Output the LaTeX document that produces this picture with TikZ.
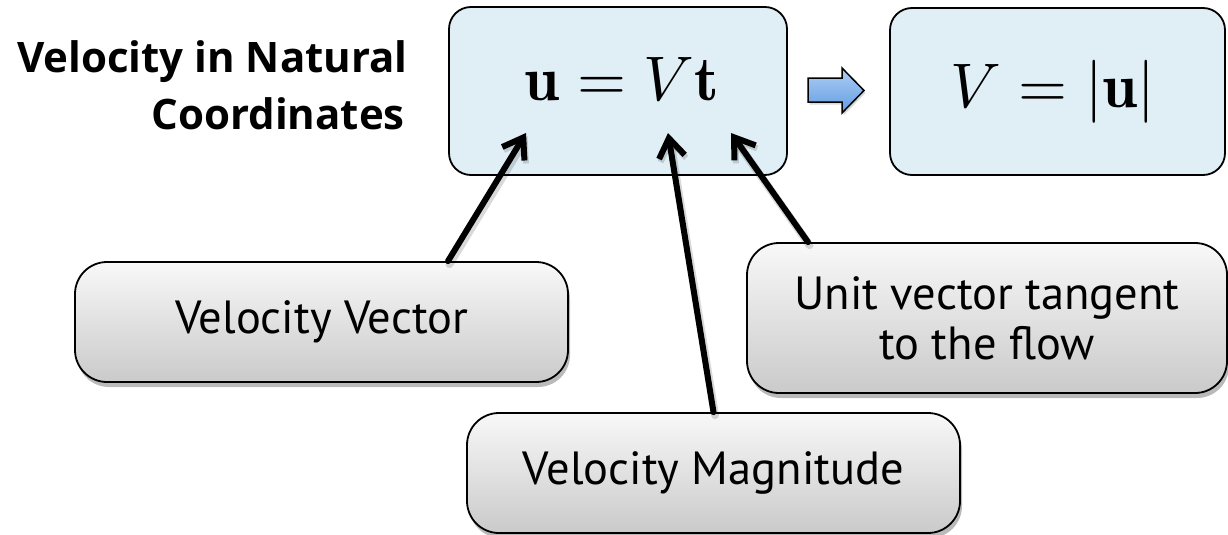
\documentclass[tikz,border=0pt]{standalone}
\usepackage{fontspec}
\setsansfont{PT Sans}
\newfontfamily\titlefont{Open Sans}
\usetikzlibrary{arrows.meta,shadows,calc}
\definecolor{eqfill}{RGB}{224,238,246}
\definecolor{grtop}{RGB}{248,248,248}
\definecolor{grbot}{RGB}{202,202,202}
\definecolor{bltop}{RGB}{176,206,244}
\definecolor{blbot}{RGB}{96,156,226}
\tikzset{
  eqbox/.style={draw=black, line width=1.8pt, fill=eqfill, rounded corners=22pt, inner sep=0pt},
  labelbox/.style={draw=black, line width=1.8pt, rounded corners=32pt, inner sep=0pt,
    top color=grtop, bottom color=grbot, align=center,
    font=\sffamily\fontsize{46.5}{50}\selectfont,
    drop shadow={shadow xshift=2pt, shadow yshift=-5pt, opacity=0.45, fill=black!60}},
  titletext/.style={font=\titlefont\bfseries\fontsize{42}{48}\selectfont, inner sep=0pt},
  conntip/.style={-{Straight Barb[length=19pt, width=26pt, line width=6pt]}},
  conn/.style={line width=6pt, conntip, line cap=round, line join=round},
  connshadow/.style={line width=8pt, conntip, line cap=round, line join=round,
    draw=black, opacity=0.15},
  eqtext/.style={inner sep=0pt}
}
\begin{document}
\begin{tikzpicture}[x=1pt,y=-1pt]
\useasboundingbox (0,0) rectangle (1228,535);

% title
\node[titletext, anchor=base east] (title1) at (408,72) {Velocity in Natural};
\node[titletext, anchor=base east] (title2) at (405,129) {Coordinates};

% equation boxes
\node[eqbox, minimum width=338pt, minimum height=168pt] (eq1) at (618,91) {};
\node[eqtext, anchor=base] (eq1t) at (622,100) {\scalebox{6.3}{$\mathbf{u} = V\mathbf{t}$}};
\node[eqbox, minimum width=335pt, minimum height=167pt] (eq2) at (1057.5,91.5) {};
\node[eqtext, anchor=base] (eq2t) at (1053,107) {\scalebox{6.3}{$V = |\mathbf{u}|$}};

% block arrow
\path[draw=black, line width=1.5pt, line join=miter, top color=bltop, bottom color=blbot,
  drop shadow={shadow xshift=1.5pt, shadow yshift=-2.5pt, opacity=0.3}]
  (808,78) -- (842,78) -- (842,68) -- (864,90.5) -- (842,113) -- (842,102) -- (808,102) -- cycle;

% label boxes
\node[labelbox, minimum width=493pt, minimum height=120pt] (vv) at (321.5,322) {Velocity Vector};
\node[labelbox, minimum width=493pt, minimum height=120pt] (vm) at (713.5,473) {Velocity Magnitude};
\node[labelbox, minimum width=480pt, minimum height=150pt] (uv) at (987,318) {Unit vector tangent\\to the flow};

% targets inside the equation box
\coordinate (t1) at (526,133);
\coordinate (t2) at (668,133);
\coordinate (t3) at (731,133);

\begin{scope}[transform canvas={xshift=1.5pt, yshift=-3pt}]
\draw[connshadow] ([xshift=126.5pt]vv.north) -- (t1);
\draw[connshadow] (vm.north) -- (t2);
\draw[connshadow] ([xshift=-179pt]uv.north) -- (t3);
\end{scope}
\draw[conn] ([xshift=126.5pt]vv.north) -- (t1);
\draw[conn] (vm.north) -- (t2);
\draw[conn] ([xshift=-179pt]uv.north) -- (t3);
\end{tikzpicture}
\end{document}
